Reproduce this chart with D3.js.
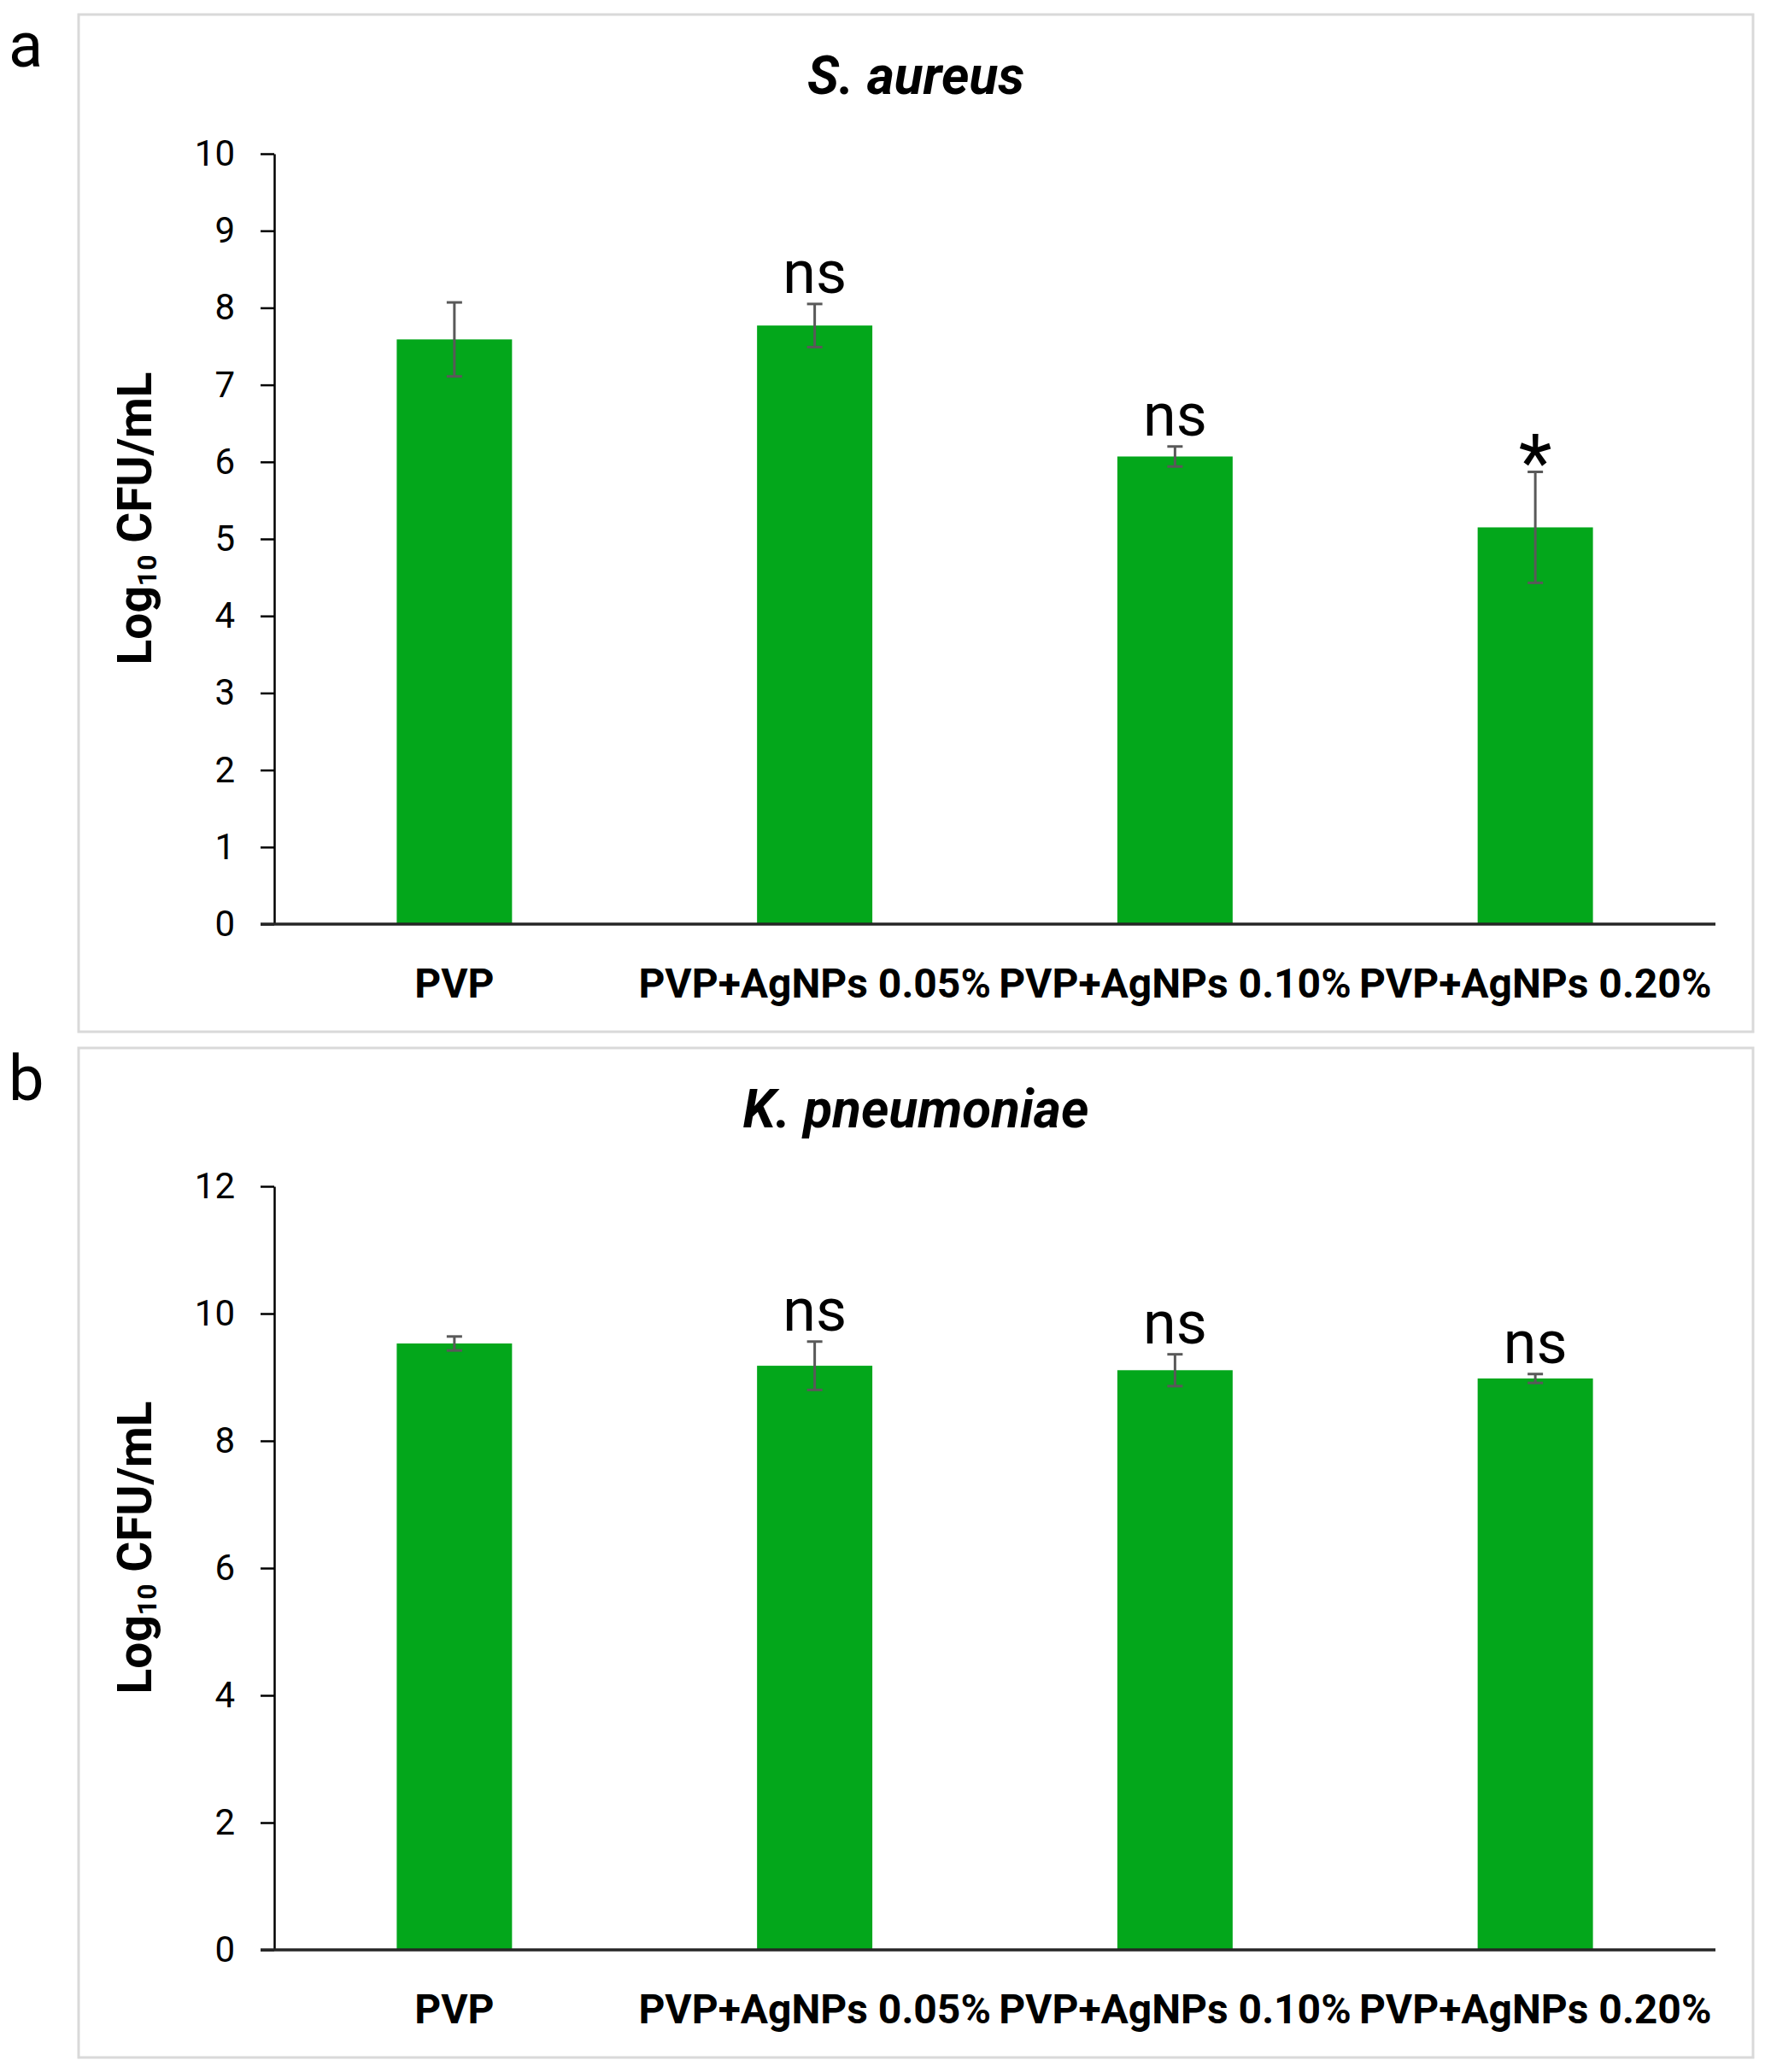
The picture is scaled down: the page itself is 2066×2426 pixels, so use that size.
<!DOCTYPE html>
<html>
<head>
<meta charset="utf-8">
<script src="https://cdn.jsdelivr.net/npm/d3@7"></script>
<style>
  html, body { margin: 0; padding: 0; background: #ffffff; }
  svg { display: block; }
</style>
</head>
<body>
<svg id="chart" width="2066" height="2426"></svg>
<script>
// ---------------- DATA ----------------
const categories = ["PVP", "PVP+AgNPs 0.05%", "PVP+AgNPs 0.10%", "PVP+AgNPs 0.20%"];

const saureusTitle = "S. aureus";
const saureusMeans = [7.59, 7.77, 6.07, 5.15];
const saureusErrors = [0.48, 0.28, 0.13, 0.72];
const saureusSignif = ["", "ns", "ns", "*"];
const saureusTicks = [0, 1, 2, 3, 4, 5, 6, 7, 8, 9, 10];

const kpneuTitle = "K. pneumoniae";
const kpneuMeans = [9.53, 9.18, 9.11, 8.98];
const kpneuErrors = [0.11, 0.38, 0.25, 0.07];
const kpneuSignif = ["", "ns", "ns", "ns"];
const kpneuTicks = [0, 2, 4, 6, 8, 10, 12];

const panelLetters = ["a", "b"];

// ---------------- LAYOUT / STYLE ----------------
const FONT = "Roboto, 'Liberation Sans', Arial, sans-serif";
const BAR_COLOR = "#03a71b";
const ERR_COLOR = "#595959";

const panels = [
  { letter: panelLetters[0], title: saureusTitle, means: saureusMeans, errs: saureusErrors,
    signif: saureusSignif, ticks: saureusTicks,
    box: { x: 92, y: 17, w: 1960, h: 1191 }, plotTop: 180, plotBottom: 1082 },
  { letter: panelLetters[1], title: kpneuTitle, means: kpneuMeans, errs: kpneuErrors,
    signif: kpneuSignif, ticks: kpneuTicks,
    box: { x: 92, y: 1227, w: 1960, h: 1182 }, plotTop: 1389, plotBottom: 2283 }
];

const plotLeft = 321, plotRight = 2008;
const tickLen = 16;

const svg = d3.select("#chart");
svg.append("rect").attr("width", 2066).attr("height", 2426).attr("fill", "#fff");

panels.forEach((p, pi) => {
  const g = svg.append("g");

  // panel frame
  g.append("rect")
    .attr("x", p.box.x).attr("y", p.box.y)
    .attr("width", p.box.w).attr("height", p.box.h)
    .attr("fill", "#fff").attr("stroke", "#d9d9d9").attr("stroke-width", 3);

  // panel letter
  g.append("text")
    .attr("x", 10).attr("y", p.box.y + 61)
    .attr("font-family", FONT).attr("font-size", 74)
    .attr("fill", "#000").text(p.letter);

  // title
  g.append("text")
    .attr("x", p.box.x + p.box.w / 2).attr("y", p.box.y + 93)
    .attr("text-anchor", "middle")
    .attr("font-family", FONT).attr("font-size", 62)
    .attr("font-weight", "bold").attr("font-style", "italic")
    .attr("fill", "#000").text(p.title);

  const x = d3.scaleBand()
    .domain(categories)
    .range([plotLeft, plotRight])
    .paddingInner(0.68).paddingOuter(0.34);

  const yMax = p.ticks[p.ticks.length - 1];
  const y = d3.scaleLinear().domain([0, yMax]).range([p.plotBottom, p.plotTop]);

  // y axis
  const yAxis = d3.axisLeft(y)
    .tickValues(p.ticks)
    .tickFormat(d3.format("d"))
    .tickSize(tickLen).tickSizeOuter(0).tickPadding(30);
  const yg = g.append("g").attr("transform", `translate(${plotLeft},0)`).call(yAxis);
  yg.select(".domain").attr("stroke", "#000").attr("stroke-width", 2.5);
  yg.selectAll(".tick line").attr("stroke", "#000").attr("stroke-width", 2.5);
  yg.selectAll(".tick text")
    .attr("font-family", FONT).attr("font-size", 42).attr("fill", "#000");

  // bars
  const data = categories.map((c, i) => ({ c, v: p.means[i], e: p.errs[i], s: p.signif[i] }));
  g.append("g").selectAll("rect").data(data).join("rect")
    .attr("x", d => x(d.c))
    .attr("y", d => y(d.v))
    .attr("width", x.bandwidth())
    .attr("height", d => y(0) - y(d.v))
    .attr("fill", BAR_COLOR);

  // x axis line (extends left by tick length)
  g.append("line")
    .attr("x1", plotLeft - tickLen).attr("x2", plotRight)
    .attr("y1", y(0)).attr("y2", y(0))
    .attr("stroke", "#262626").attr("stroke-width", 3.5);

  // category labels via axis
  const xAxis = d3.axisBottom(x).tickSize(0).tickPadding(0);
  const xg = g.append("g").attr("transform", `translate(0,${y(0)})`).call(xAxis);
  xg.select(".domain").remove();
  xg.selectAll(".tick text")
    .attr("dy", null).attr("y", 86)
    .attr("font-family", FONT).attr("font-size", 48)
    .attr("font-weight", "bold").attr("fill", "#000");

  // error bars
  const cx = d => x(d.c) + x.bandwidth() / 2;
  const eg = g.append("g").attr("stroke", ERR_COLOR).attr("stroke-width", 3);
  eg.selectAll("line.v").data(data).join("line").attr("class", "v")
    .attr("x1", cx).attr("x2", cx)
    .attr("y1", d => y(d.v + d.e)).attr("y2", d => y(d.v - d.e));
  eg.selectAll("line.t").data(data).join("line").attr("class", "t")
    .attr("x1", d => cx(d) - 9).attr("x2", d => cx(d) + 9)
    .attr("y1", d => y(d.v + d.e)).attr("y2", d => y(d.v + d.e));
  eg.selectAll("line.b").data(data).join("line").attr("class", "b")
    .attr("x1", d => cx(d) - 9).attr("x2", d => cx(d) + 9)
    .attr("y1", d => y(d.v - d.e)).attr("y2", d => y(d.v - d.e));

  // significance labels
  g.append("g").selectAll("text").data(data.filter(d => d.s)).join("text")
    .attr("x", cx)
    .attr("y", d => y(d.v + d.e) + (d.s === "*" ? 20 : -13))
    .attr("text-anchor", "middle")
    .attr("font-family", FONT)
    .attr("font-size", d => d.s === "*" ? 90 : 70)
    .attr("fill", "#000")
    .text(d => d.s);

  // y axis title
  const yt = g.append("text")
    .attr("transform", `translate(177,${(p.plotTop + p.plotBottom) / 2 - 24}) rotate(-90)`)
    .attr("text-anchor", "middle")
    .attr("font-family", FONT).attr("font-size", 55)
    .attr("font-weight", "bold").attr("fill", "#000");
  yt.append("tspan").text("Log");
  yt.append("tspan").attr("font-size", 32).attr("dy", 6).text("10");
  yt.append("tspan").attr("dy", -6).text(" CFU/mL");
});
</script>
</body>
</html>
